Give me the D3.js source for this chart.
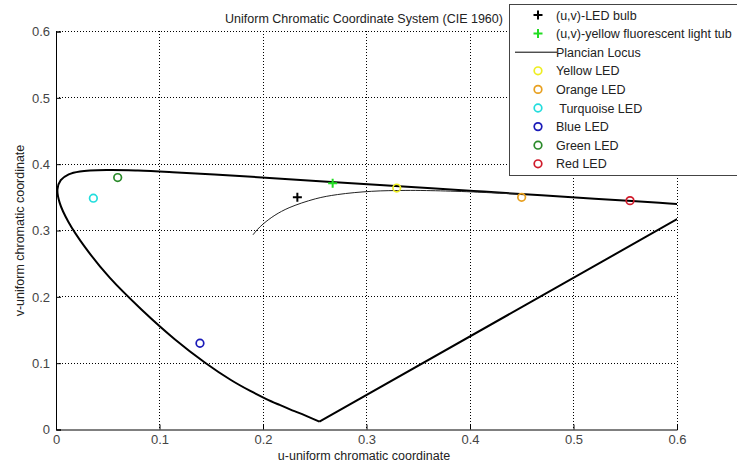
<!DOCTYPE html>
<html>
<head>
<meta charset="utf-8">
<script src="https://cdn.jsdelivr.net/npm/d3@7"></script>
<style>
  body { margin: 0; background: #fff; }
  svg { display: block; font-family: 'Liberation Sans', Arial, sans-serif; }
</style>
</head>
<body>
<div class="viz"></div>
<script>
// spectral locus (CIE 1960 u,v), violet end -> 700nm
const locusU = [0.2545, 0.2347, 0.2266, 0.2161, 0.2033, 0.1877, 0.1690, 0.1441, 0.1147, 0.0828, 0.0521, 0.0282, 0.0119, 0.0035, 0.0014, 0.0046, 0.0123, 0.0231, 0.0501, 0.0792, 0.1127, 0.1531, 0.2026, 0.2623, 0.3315, 0.4035, 0.4692, 0.5203, 0.5565, 0.5830, 0.6005, 0.6234];
const locusV = [0.0118, 0.0250, 0.0300, 0.0370, 0.0459, 0.0581, 0.0746, 0.1007, 0.1362, 0.1806, 0.2285, 0.2745, 0.3132, 0.3420, 0.3621, 0.3759, 0.3847, 0.3891, 0.3912, 0.3904, 0.3880, 0.3844, 0.3796, 0.3736, 0.3667, 0.3596, 0.3530, 0.3479, 0.3443, 0.3417, 0.3400, 0.3377];

// planckian locus, 10000K -> 1000K
const planckU = [0.1903, 0.1946, 0.2005, 0.2115, 0.2252, 0.2505, 0.2721, 0.3050, 0.3373, 0.3580, 0.3968, 0.4481];
const planckV = [0.2934, 0.3015, 0.3103, 0.3230, 0.3343, 0.3477, 0.3542, 0.3591, 0.3604, 0.3602, 0.3585, 0.3547];

// measured points
const pointNames = ['(u,v)-LED bulb', '(u,v)-yellow fluorescent light tub', 'Yellow LED', 'Orange LED', ' Turquoise LED', 'Blue LED', 'Green LED', 'Red LED'];
const pointU = [0.2332, 0.2673, 0.3292, 0.4499, 0.0361, 0.1391, 0.0596, 0.5546];
const pointV = [0.3500, 0.3713, 0.3640, 0.3500, 0.3487, 0.1300, 0.3798, 0.3450];
const pointKind = ['plus', 'plus', 'circle', 'circle', 'circle', 'circle', 'circle', 'circle'];
const pointColor = ['#000000', '#22dd22', '#eeee22', '#e8a020', '#22dddd', '#1a1ab8', '#2a8a2a', '#d01a2a'];

const ticksX = [0, 0.1, 0.2, 0.3, 0.4, 0.5, 0.6];
const ticksY = [0, 0.1, 0.2, 0.3, 0.4, 0.5, 0.6];

const margin = { top: 31.5, right: 60, bottom: 36.5, left: 56 };
const W = 737;
const H = 466;
const width = 677 - margin.left;
const height = H - margin.top - margin.bottom;

const svg = d3.select('.viz')
  .append('svg')
  .attr('width', W)
  .attr('height', H);

const xScale = d3.scaleLinear().domain([0, 0.6]).range([0, width]);
const yScale = d3.scaleLinear().domain([0, 0.6]).range([height, 0]);

svg.append('defs')
  .append('clipPath')
  .attr('id', 'plot-clip')
  .append('rect')
  .attr('x', 0)
  .attr('y', 0)
  .attr('width', width)
  .attr('height', height);

const g = svg.append('g')
  .attr('transform', `translate(${margin.left} ${margin.top})`);

// dotted grid, snapped to pixel centres so the dots stay sharp
g.append('g')
  .selectAll('line')
  .data(ticksX.slice(1))
  .join('line')
  .attr('x1', d => Math.floor(xScale(d)) + 0.5)
  .attr('x2', d => Math.floor(xScale(d)) + 0.5)
  .attr('y1', -0.5)
  .attr('y2', height)
  .attr('stroke', '#000')
  .attr('stroke-width', 1)
  .attr('stroke-dasharray', '1 2');

g.append('g')
  .selectAll('line')
  .data(ticksY.slice(1))
  .join('line')
  .attr('x1', 0)
  .attr('x2', width)
  .attr('y1', d => Math.round(yScale(d)))
  .attr('y2', d => Math.round(yScale(d)))
  .attr('stroke', '#000')
  .attr('stroke-width', 1)
  .attr('stroke-dasharray', '1 2');

// axes, ticks pointing inward
const xAxis = d3.axisBottom(xScale).tickValues(ticksX).tickSize(-5).tickPadding(5).tickFormat(d3.format('~g'));
const yAxis = d3.axisLeft(yScale).tickValues(ticksY).tickSize(-5).tickPadding(6).tickFormat(d3.format('~g'));

g.append('g')
  .attr('class', 'axis')
  .attr('transform', `translate(0 ${height})`)
  .call(xAxis);

g.append('g')
  .attr('class', 'axis')
  .call(yAxis);

g.selectAll('.axis .domain').attr('stroke', '#000');
g.selectAll('.axis text')
  .attr('font-size', 13)
  .attr('fill', '#444')
  .attr('font-family', "'Liberation Sans', Arial, sans-serif");
g.selectAll('.axis line').attr('stroke', '#000');

// curves
const plot = g.append('g').attr('clip-path', 'url(#plot-clip)');

const locus = locusU.map((u, i) => [u, locusV[i]]);
const smooth = d3.line()
  .x(d => xScale(d[0]))
  .y(d => yScale(d[1]))
  .curve(d3.curveCatmullRom);

// spectral locus plus the straight purple line back to the violet end
plot.append('path')
  .attr('d', smooth(locus) + 'L' + xScale(locus[0][0]) + ',' + yScale(locus[0][1]))
  .attr('fill', 'none')
  .attr('stroke', '#000')
  .attr('stroke-width', 2)
  .attr('stroke-linejoin', 'round');

const planck = planckU.map((u, i) => [u, planckV[i]]);
plot.append('path')
  .attr('d', smooth(planck))
  .attr('fill', 'none')
  .attr('stroke', '#222')
  .attr('stroke-width', 1);

// markers
function drawMarker(sel, kind, color, x, y) {
  if (kind === 'plus') {
    sel.append('path')
      .attr('d', `M${x - 4.5},${y}H${x + 4.5}M${x},${y - 4.5}V${y + 4.5}`)
      .attr('stroke', color)
      .attr('stroke-width', 2)
      .attr('fill', 'none');
  } else {
    sel.append('circle')
      .attr('cx', x)
      .attr('cy', y)
      .attr('r', 3.8)
      .attr('fill', 'none')
      .attr('stroke', color)
      .attr('stroke-width', 1.7);
  }
}

pointU.forEach((u, i) => {
  drawMarker(g, pointKind[i], pointColor[i], xScale(u), yScale(pointV[i]));
});

// title and axis labels
svg.append('text')
  .attr('x', 364)
  .attr('y', 23)
  .attr('text-anchor', 'middle')
  .attr('font-size', 12.5)
  .attr('fill', '#222')
  .text('Uniform Chromatic Coordinate System (CIE 1960)');

svg.append('text')
  .attr('x', 364)
  .attr('y', 460)
  .attr('text-anchor', 'middle')
  .attr('font-size', 12.5)
  .attr('fill', '#222')
  .text('u-uniform chromatic coordinate');

svg.append('text')
  .attr('transform', `translate(24 ${margin.top + height / 2}) rotate(-90)`)
  .attr('text-anchor', 'middle')
  .attr('font-size', 12.5)
  .attr('fill', '#222')
  .text('v-uniform chromatic coordinate');

// legend
const legend = svg.append('g').attr('transform', 'translate(509 4)');
legend.append('rect')
  .attr('x', 0.5)
  .attr('y', 0.5)
  .attr('width', 240)
  .attr('height', 171)
  .attr('fill', '#fff')
  .attr('stroke', '#444')
  .attr('stroke-width', 1);

const legendNames = [pointNames[0], pointNames[1], 'Plancian Locus', ...pointNames.slice(2)];
const legendKind = [pointKind[0], pointKind[1], 'line', ...pointKind.slice(2)];
const legendColor = [pointColor[0], pointColor[1], '#000', ...pointColor.slice(2)];

legendNames.forEach((name, i) => {
  const y = 11 + i * 18.6;
  const row = legend.append('g');
  if (legendKind[i] === 'line') {
    row.append('line')
      .attr('x1', 6)
      .attr('x2', 48)
      .attr('y1', y)
      .attr('y2', y)
      .attr('stroke', '#000')
      .attr('stroke-width', 1);
  } else {
    drawMarker(row, legendKind[i], legendColor[i], 29, y);
  }
  row.append('text')
    .attr('x', 47)
    .attr('y', y + 4.5)
    .attr('font-size', 12.5)
    .attr('fill', '#222')
    .style('white-space', 'pre')
    .text(name);
});
</script>
</body>
</html>
